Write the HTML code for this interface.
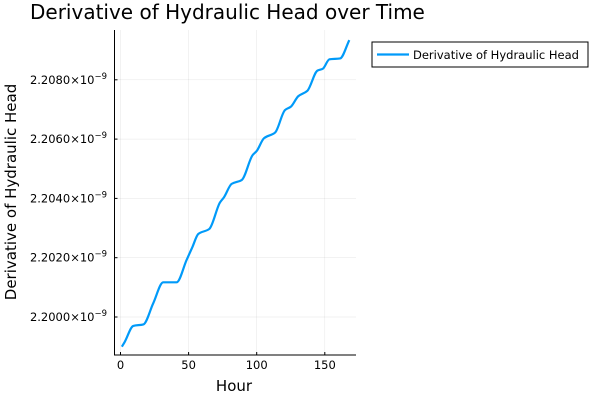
<!DOCTYPE html>
<html><head><meta charset="utf-8"><style>
body{margin:0;background:#fff;}
svg{display:block;font-family:"DejaVu Sans","Liberation Sans",sans-serif;}
</style></head><body>
<svg id="chart" width="600" height="400">
<text x="30" y="19" font-size="20" fill="#000">Derivative of Hydraulic Head over Time</text>
<g id="grid"></g>
<g id="axes"></g>
<path id="line" fill="none" stroke="#009af9" stroke-width="2.2" stroke-linejoin="round"/>
<text x="234" y="391" font-size="15" text-anchor="middle">Hour</text>
<text transform="translate(16,192) rotate(-90)" font-size="15" text-anchor="middle">Derivative of Hydraulic Head</text>
<g>
<rect x="372" y="42" width="216" height="25" fill="#fff" stroke="#000" stroke-width="1"/>
<line x1="377" y1="54.5" x2="409" y2="54.5" stroke="#009af9" stroke-width="2.2"/>
<text x="413" y="59" font-size="11.5">Derivative of Hydraulic Head</text>
</g>
</svg>
<script>
const hours=[1,3,9.4,16.8,24,31.4,41.2,48.5,52.8,57.1,65.2,73,76,81.6,89,97,100,105.4,113.5,120.8,125,130.6,137.2,144.6,148.5,153.4,161.2,168];
const values=[-1.0,-0.85,-0.30,-0.25,0.46,1.17,1.17,1.92,2.36,2.80,2.97,3.86,4.04,4.49,4.62,5.46,5.60,6.03,6.22,6.98,7.09,7.45,7.63,8.31,8.37,8.69,8.72,9.34];
const xTicks=[0,50,100,150];
const yTicks=[0,2,4,6,8];
const yTickLabels=["2.2000","2.2020","2.2040","2.2060","2.2080"];
const L=114.5,R=356,T=30,B=355;
function sx(h){return 120.5+h*1.362;}
function sy(v){return 317-v*29.65;}
const NS="http://www.w3.org/2000/svg";
const grid=document.getElementById('grid'),axes=document.getElementById('axes');
function mk(tag,attrs,parent){const e=document.createElementNS(NS,tag);for(const k in attrs)e.setAttribute(k,attrs[k]);parent.appendChild(e);return e;}
xTicks.forEach(t=>{
  const g=mk('line',{x1:sx(t),x2:sx(t),y1:T,y2:B,stroke:'#000','stroke-opacity':0.1,'stroke-width':0.5},grid);
  
  
  const tk=mk('line',{x1:sx(t),x2:sx(t),y1:B,y2:B-3,stroke:'#000','stroke-width':1},axes);
  
  
  const tx=mk('text',{x:sx(t),y:B+14,'font-size':11.5,'text-anchor':'middle'},axes);
  tx.textContent=t;
  
  
});
yTicks.forEach((t,i)=>{
  const g=mk('line',{x1:L,x2:R,y1:sy(t),y2:sy(t),stroke:'#000','stroke-opacity':0.1,'stroke-width':0.5},grid);
  
  
  const tk=mk('line',{x1:L,x2:L+3,y1:sy(t),y2:sy(t),stroke:'#000','stroke-width':1},axes);
  
  
  const tx=mk('text',{x:107,y:sy(t)+4,'font-size':11.5,'text-anchor':'end'},axes);
  tx.innerHTML=yTickLabels[i]+'×10<tspan dy="-5" font-size="8.5">−9</tspan>';
  
  
});
const ax=mk('path',{d:`M${L},${T}V${B}H${R}`,fill:'none',stroke:'#000','stroke-width':1},axes);


const px=hours.map(sx),py=values.map(sy),n=px.length;
const dk=[],m=[];
for(let i=0;i<n-1;i++)dk.push((py[i+1]-py[i])/(px[i+1]-px[i]));
m[0]=dk[0];m[n-1]=dk[n-2];
for(let i=1;i<n-1;i++){
  if(dk[i-1]*dk[i]<=0)m[i]=0;
  else{const h0=px[i]-px[i-1],h1=px[i+1]-px[i];const w1=2*h1+h0,w2=h1+2*h0;m[i]=(w1+w2)/(w1/dk[i-1]+w2/dk[i]);}
}
let d=`M${px[0]},${py[0]}`;
for(let i=0;i<n-1;i++){
  const h=(px[i+1]-px[i])/3;
  d+=` C${px[i]+h},${py[i]+m[i]*h} ${px[i+1]-h},${py[i+1]-m[i+1]*h} ${px[i+1]},${py[i+1]}`;
}
document.getElementById('line').setAttribute('d',d);
</script>
</body></html>
